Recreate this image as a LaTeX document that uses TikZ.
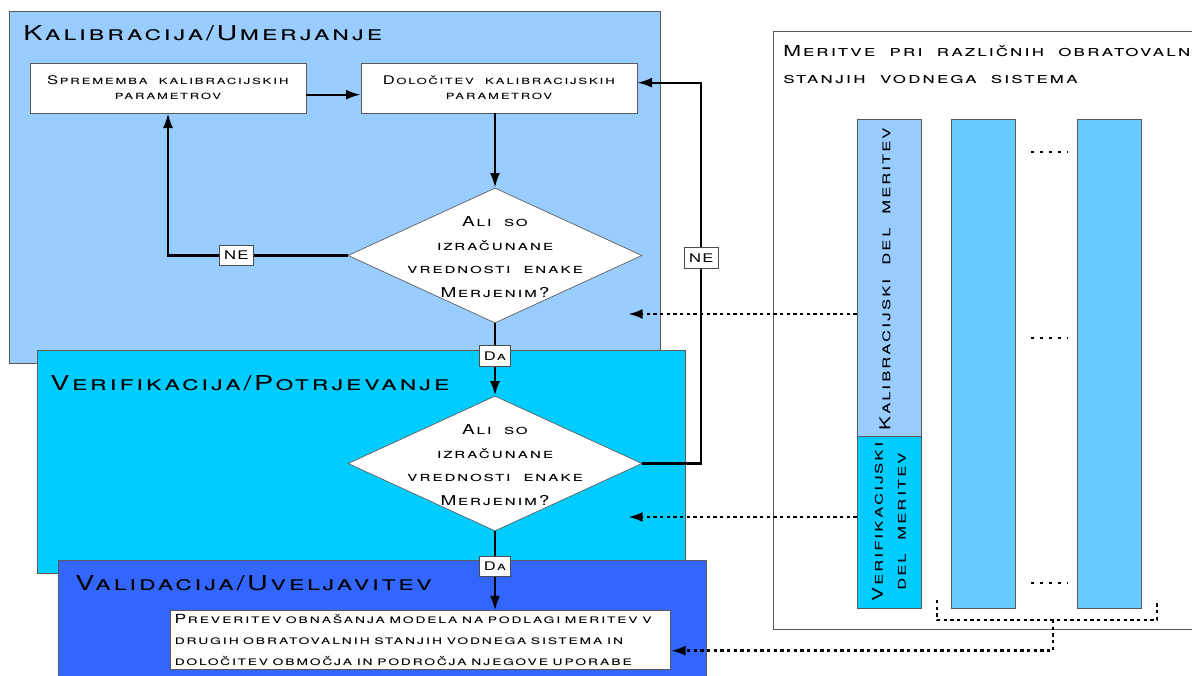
\documentclass[tikz,border=0pt]{standalone}
\usepackage{fontspec}
\setmainfont{TeX Gyre Heros}[Letters=SmallCaps,LetterSpace=12,FakeStretch=1.4,WordSpace=1.8]
\usetikzlibrary{arrows,arrows.meta,shapes.geometric,calc}
\definecolor{kalibcol}{HTML}{99CCFF}
\definecolor{verifcol}{HTML}{00CCFF}
\definecolor{validcol}{HTML}{3366FF}
\definecolor{meascol}{HTML}{66CCFF}
\tikzset{
  stage/.style={draw=black!65,line width=0.5pt},
  stagetitle/.style={anchor=west,inner sep=0pt,font=\fontsize{15.4}{18}\selectfont},
  procbox/.style={draw=black!65,fill=white,line width=0.5pt,minimum width=207pt,minimum height=37.5pt,align=center,inner sep=0pt,font=\fontsize{8.9}{11.25}\selectfont},
  decision/.style={diamond,draw=black!65,fill=white,line width=0.5pt,minimum width=220.5pt,minimum height=101.25pt,inner sep=0pt},
  dectext/.style={align=center,inner sep=0pt,font=\fontsize{10.2}{17.6}\selectfont},
  lab/.style={draw=black!70,fill=white,inner xsep=3.5pt,inner ysep=4.5pt,line width=0.5pt,font=\fontsize{8.9}{9}\selectfont},
  tip/.style={-{Latex[length=11pt,width=7.5pt]}},
  flow/.style={tip,line width=1.7pt},
  meas/.style={line width=2pt,dash pattern=on 2.5pt off 2.5pt},
  column/.style={draw=black!65,line width=0.5pt}
}
\begin{document}
\begin{tikzpicture}[x=0.75pt,y=-0.75pt]
\useasboundingbox (0,0) rectangle (1192,675);
\clip (0,0) rectangle (1192,675);
% stages
\draw[stage,fill=kalibcol] (9,11) rectangle (660,363);
\draw[stage,fill=verifcol] (37,350) rectangle (685,573);
\draw[stage,fill=validcol] (58,560) rectangle (706,690);
\node[stagetitle] (tkalib) at (23,33.5) {Kalibracija/Umerjanje};
\node[stagetitle] (tverif) at (50,383) {Verifikacija/Potrjevanje};
\node[stagetitle] (tvalid) at (75,583) {Validacija/Uveljavitev};
% measurements
\draw[stage,fill=white] (773,31) rectangle (1200,629);
\node[anchor=north west,align=left,inner sep=0pt,font=\fontsize{11.4}{20.25}\selectfont] (tmeas) at (783,45.5)
  {Meritve pri različnih obratovalnih\\stanjih vodnega sistema};
\draw[column,fill=kalibcol] (857,119) rectangle (921,436);
\node[inner sep=0pt,minimum width=48pt,minimum height=237.75pt] (k1) at (889,277.5) {};
\draw[column,fill=verifcol] (857,436) rectangle (921,608);
\node[inner sep=0pt,minimum width=48pt,minimum height=129pt] (v1) at (889,522) {};
\node[rotate=90,inner sep=0pt,font=\fontsize{11.2}{17}\selectfont] (k1text) at (885,279) {Kalibracijski del meritev};
\node[rotate=90,align=center,inner sep=0pt,font=\fontsize{11.2}{17.25}\selectfont] (v1text) at (889,522) {Verifikacijski\\del meritev};
\draw[column,fill=meascol] (951,119) rectangle (1015,608);
\draw[column,fill=meascol] (1077,119) rectangle (1141,608);
\foreach \y in {152,338,583}
  \draw[line width=2.2pt,dash pattern=on 2.2pt off 4.6pt] (1031,\y) -- (1068,\y);
% flow chart
\node[procbox] (spr) at (168,88) {Sprememba kalibracijskih\\parametrov};
\node[procbox] (dol) at (499,88) {Določitev kalibracijskih\\parametrov};
\node[decision] (q1) at (495,255.5) {};
\node[dectext] (q1text) at (495,257) {Ali so\\izračunane\\vrednosti enake\\Merjenim?};
\node[decision] (q2) at (495,463.5) {};
\node[dectext] (q2text) at (495,465) {Ali so\\izračunane\\vrednosti enake\\Merjenim?};
\node[draw=black!65,fill=white,line width=0.5pt,align=left,inner sep=3pt,text width=369pt,font=\fontsize{9.4}{15.4}\selectfont] (prev) at (420.5,640)
  {Preveritev obnašanja modela na podlagi meritev v\\drugih obratovalnih stanjih vodnega sistema in\\določitev območja in področja njegove uporabe};
\draw[flow] ([yshift=-5pt]spr.east) -- ([yshift=-5pt]dol.west);
\draw[flow] (dol.south -| q1.north) -- (q1.north);
\draw[flow] (q1.west) -| node[lab,pos=0.31] (ne1) {NE} (spr.south);
\draw[flow] (q1.south) -- node[lab,pos=0.45] (da1) {Da} (q2.north);
\draw[flow] (q2.east) -- ++(59,0) |- node[lab,pos=0.27] (ne2) {NE} ([yshift=4pt]dol.east);
\draw[flow] (q2.south) -- node[lab,pos=0.44] (da2) {Da} (prev.north -| q2.south);
% measurement links
\coordinate (kin) at (628,314);
\coordinate (vin) at (628,517);
\coordinate (brl) at (937,600);
\coordinate (brr) at (1157,600);
\coordinate (brm) at (1053,620);
\draw[meas,tip] (k1.west |- kin) -- (kin);
\draw[meas,tip] (v1.west |- vin) -- (vin);
\draw[meas] (brl) |- (brr |- brm) -- (brr);
\draw[meas,tip] (brm) |- ([yshift=-8pt]prev.east);
\end{tikzpicture}
\end{document}
